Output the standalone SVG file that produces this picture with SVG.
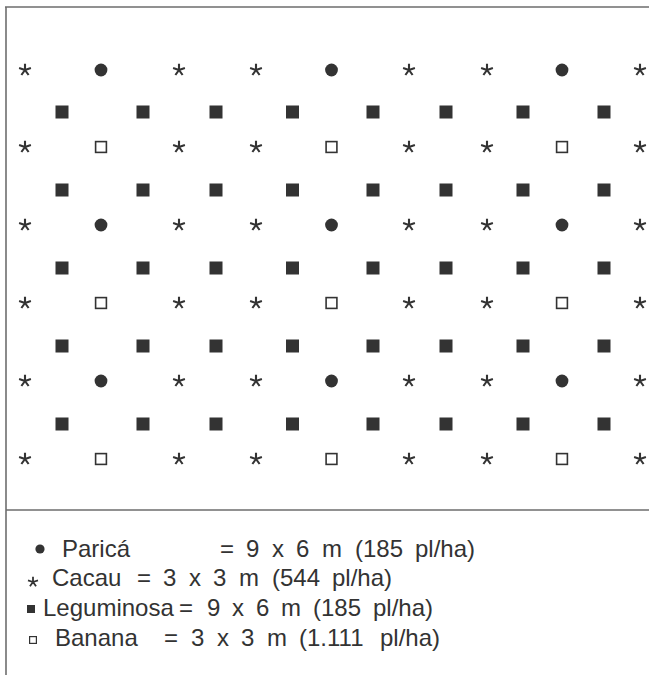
<svg xmlns="http://www.w3.org/2000/svg" xmlns:xlink="http://www.w3.org/1999/xlink" width="649" height="675" viewBox="0 0 649 675">
<style>
.frame{stroke:#6e6e6e;stroke-width:1.6;fill:none}
.t{font-family:"Liberation Sans",Arial,sans-serif;font-size:24px;fill:#333}
</style>
<defs>
<g id="star"><path d="M0,0V-6.2M0,0L5.9,-1.9M0,0L3.6,5M0,0L-3.6,5M0,0L-5.9,-1.9" stroke="#333" stroke-width="2.1" stroke-linecap="butt" fill="none"/></g>
<circle id="dot" r="6.4" fill="#333"/>
<rect id="sq" x="-6.5" y="-6.5" width="13" height="13" fill="#333"/>
<rect id="osq" x="-5.4" y="-5.4" width="10.8" height="10.8" fill="#fff" stroke="#333" stroke-width="1.6"/>
<g id="rowC">
<use xlink:href="#star" x="25"/><use xlink:href="#dot" x="101"/><use xlink:href="#star" x="179"/><use xlink:href="#star" x="256"/><use xlink:href="#dot" x="331.5"/><use xlink:href="#star" x="409"/><use xlink:href="#star" x="487"/><use xlink:href="#dot" x="562"/><use xlink:href="#star" x="640"/>
</g>
<g id="rowB">
<use xlink:href="#star" x="25"/><use xlink:href="#osq" x="101"/><use xlink:href="#star" x="179"/><use xlink:href="#star" x="256"/><use xlink:href="#osq" x="331.5"/><use xlink:href="#star" x="409"/><use xlink:href="#star" x="487"/><use xlink:href="#osq" x="562"/><use xlink:href="#star" x="640"/>
</g>
<g id="rowS">
<use xlink:href="#sq" x="62"/><use xlink:href="#sq" x="143"/><use xlink:href="#sq" x="216"/><use xlink:href="#sq" x="292.5"/><use xlink:href="#sq" x="373"/><use xlink:href="#sq" x="446"/><use xlink:href="#sq" x="523"/><use xlink:href="#sq" x="604"/>
</g>
</defs>
<g id="frame">
<path class="frame" d="M5,7H649M6,7V675M6,510H649"/>
</g>
<g id="plan">
<use id="row1" xlink:href="#rowC" y="70"/>
<use id="row2" xlink:href="#rowS" y="112"/>
<use id="row3" xlink:href="#rowB" y="147"/>
<use id="row4" xlink:href="#rowS" y="190"/>
<use id="row5" xlink:href="#rowC" y="225"/>
<use id="row6" xlink:href="#rowS" y="268"/>
<use id="row7" xlink:href="#rowB" y="303"/>
<use id="row8" xlink:href="#rowS" y="346"/>
<use id="row9" xlink:href="#rowC" y="381"/>
<use id="row10" xlink:href="#rowS" y="424"/>
<use id="row11" xlink:href="#rowB" y="459"/>
</g>
<g id="legend">
<g id="leg-parica">
<circle cx="40" cy="549" r="4.6" fill="#333"/>
<text class="t" y="557"><tspan x="62">Paricá</tspan><tspan x="220">=</tspan><tspan x="246">9</tspan><tspan x="272">x</tspan><tspan x="296">6</tspan><tspan x="322">m</tspan><tspan x="355">(185</tspan><tspan x="415">pl/ha)</tspan></text>
</g>
<g id="leg-cacau">
<use xlink:href="#star" transform="translate(33 582) scale(0.85)"/>
<text class="t" y="586"><tspan x="52">Cacau</tspan><tspan x="137">=</tspan><tspan x="163">3</tspan><tspan x="189">x</tspan><tspan x="213">3</tspan><tspan x="239">m</tspan><tspan x="272">(544</tspan><tspan x="332">pl/ha)</tspan></text>
</g>
<g id="leg-leguminosa">
<rect x="27" y="605" width="8" height="8" fill="#333"/>
<text class="t" y="616"><tspan x="43">Leguminosa</tspan><tspan x="179">=</tspan><tspan x="207">9</tspan><tspan x="232">x</tspan><tspan x="256">6</tspan><tspan x="281">m</tspan><tspan x="313">(185</tspan><tspan x="373">pl/ha)</tspan></text>
</g>
<g id="leg-banana">
<rect x="29.6" y="636.6" width="6.8" height="6.8" fill="#fff" stroke="#333" stroke-width="1.2"/>
<text class="t" y="646"><tspan x="55">Banana</tspan><tspan x="164">=</tspan><tspan x="191">3</tspan><tspan x="217">x</tspan><tspan x="241">3</tspan><tspan x="267">m</tspan><tspan x="299">(1.111</tspan><tspan x="380">pl/ha)</tspan></text>
</g>
</g>
</svg>
